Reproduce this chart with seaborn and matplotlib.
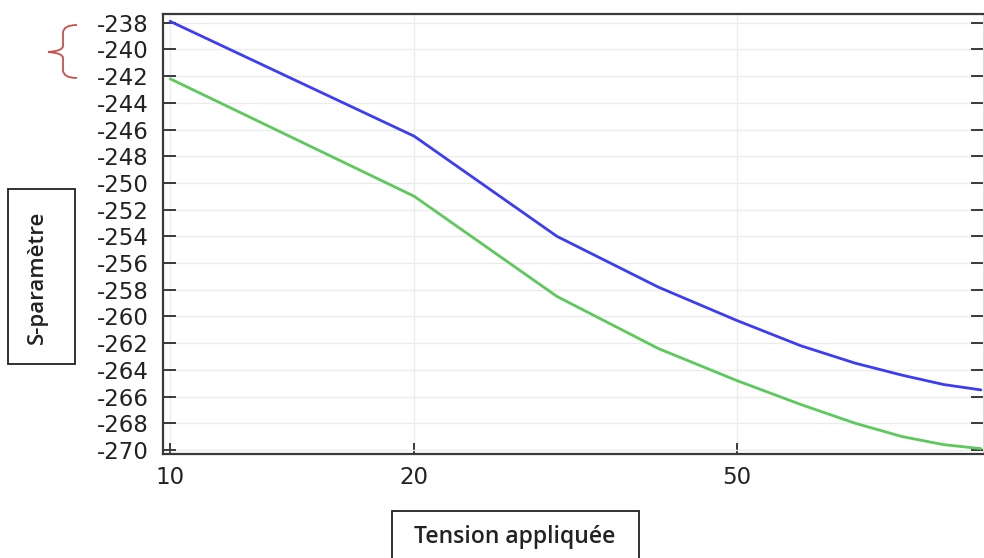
import numpy as np
import pandas as pd
import matplotlib
matplotlib.use("Agg")
import matplotlib.pyplot as plt
import seaborn as sns
from matplotlib.patches import Rectangle
from matplotlib.path import Path
from matplotlib.patches import PathPatch
from matplotlib.ticker import FixedLocator, NullLocator, FixedFormatter

# ---- data ----
tension = [10, 20, 30, 40, 50, 60, 70, 80, 90, 100]
serie_bleue = [-237.9, -246.5, -254.0, -257.8, -260.3, -262.2, -263.5, -264.4, -265.1, -265.5]
serie_verte = [-242.2, -251.0, -258.5, -262.4, -264.8, -266.6, -268.0, -269.0, -269.6, -269.9]
series_names = ["bleue", "verte"]
series_colors = ["#3c3cf6", "#5cc95c"]
x_ticks = [10, 20, 50]
x_ticklabels = ["10", "20", "50"]
y_ticks = list(range(-270, -237, 2))
xlabel = "Tension appliquée"
ylabel = "S-paramètre"

df = pd.DataFrame({
    "x": tension * 2,
    "y": serie_bleue + serie_verte,
    "serie": [series_names[0]] * len(tension) + [series_names[1]] * len(tension),
})

sns.set_theme(style="white")
plt.rcParams["font.family"] = ["DejaVu Sans"]
plt.rcParams["axes.unicode_minus"] = False

W, H = 984, 558
fig = plt.figure(figsize=(W / 100, H / 100), dpi=100)
ax = fig.add_axes([163 / W, 1 - 454 / H, (983 - 163) / W, (454 - 14) / H])

sns.lineplot(data=df, x="x", y="y", hue="serie", palette=series_colors,
             linewidth=2.0, ax=ax, legend=False)

ax.set_xscale("log")
ax.set_xlim(9.80, 100.6)
ax.set_ylim(-270.3, -237.35)
ax.xaxis.set_major_locator(FixedLocator(x_ticks))
ax.xaxis.set_major_formatter(FixedFormatter(x_ticklabels))
ax.xaxis.set_minor_locator(NullLocator())
ax.yaxis.set_major_locator(FixedLocator(y_ticks))
ax.yaxis.set_minor_locator(NullLocator())

ax.grid(True, color="#ececec", linewidth=1.0)
for s in ax.spines.values():
    s.set_color("#3a3a3a")
    s.set_linewidth(1.6)
ax.spines["right"].set_color("#dddddd")
ax.spines["right"].set_linewidth(0.8)

ax.tick_params(axis="y", which="major", direction="in", length=9, width=1.4,
               color="#3a3a3a", left=True, right=True, labelsize=16.5,
               labelcolor="#222222", pad=10)
ax.tick_params(axis="x", which="major", direction="in", length=8, width=1.4,
               color="#3a3a3a", bottom=True, top=False, labelsize=16.5,
               labelcolor="#222222", pad=9)
ax.set_xlabel("")
ax.set_ylabel("")

# Y label box
fig.patches.append(Rectangle((8 / W, 1 - 364 / H), 67 / W, 175 / H,
                             transform=fig.transFigure, fill=False,
                             edgecolor="#222222", linewidth=1.3, figure=fig))
fig.text(37 / W, 1 - 277 / H, ylabel, rotation=90, ha="center", va="center",
         fontsize=16, fontweight="semibold", family=["Open Sans", "DejaVu Sans"],
         color="#222222")

# X label box
fig.patches.append(Rectangle((392 / W, -0.02), (639 - 392) / W, (558 - 511) / H + 0.02,
                             transform=fig.transFigure, fill=False,
                             edgecolor="#222222", linewidth=1.3, figure=fig))
fig.text(515 / W, 1 - 537 / H, xlabel, ha="center", va="center",
         fontsize=16.5, fontweight="semibold", family=["Open Sans", "DejaVu Sans"],
         color="#222222")

# Red brace (annotation)
def px(x, y):
    return (x / W, 1 - y / H)

verts = [px(77, 25), px(63, 25), px(63, 33), px(63, 40),
         px(63, 46), px(63, 51), px(48, 52),
         px(63, 53), px(63, 58),
         px(63, 64), px(63, 70), px(63, 78), px(77, 78)]
codes = [Path.MOVETO, Path.CURVE3, Path.CURVE3, Path.LINETO,
         Path.LINETO, Path.CURVE3, Path.CURVE3,
         Path.CURVE3, Path.CURVE3,
         Path.LINETO, Path.LINETO, Path.CURVE3, Path.CURVE3]
fig.patches.append(PathPatch(Path(verts, codes), transform=fig.transFigure,
                             fill=False, edgecolor="#c9504a", linewidth=1.3,
                             figure=fig))

fig.savefig("out.png", dpi=100)
